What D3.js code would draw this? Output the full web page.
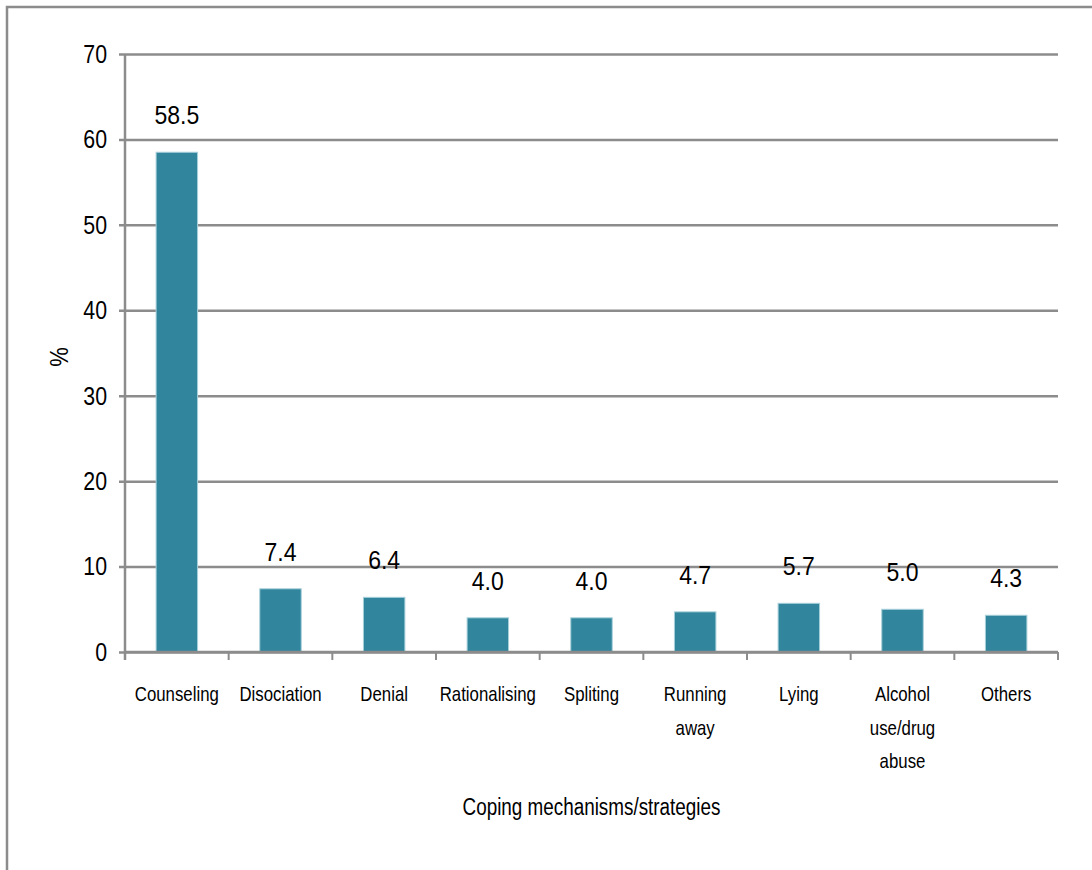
<!DOCTYPE html>
<html>
<head>
<meta charset="utf-8">
<script src="https://cdn.jsdelivr.net/npm/d3@7"></script>
<style>
  html, body { margin: 0; padding: 0; background: #fff; }
  svg { display: block; }
</style>
</head>
<body>
<svg id="chart" width="1092" height="870"></svg>
<script>
// Coping mechanisms / strategies, share of respondents (%)
const categories = [
  ["Counseling"],
  ["Disociation"],
  ["Denial"],
  ["Rationalising"],
  ["Spliting"],
  ["Running", "away"],
  ["Lying"],
  ["Alcohol", "use/drug", "abuse"],
  ["Others"]
];
const values = [58.5, 7.4, 6.4, 4.0, 4.0, 4.7, 5.7, 5.0, 4.3];
const yTicks = [0, 10, 20, 30, 40, 50, 60, 70];
const xTitle = "Coping mechanisms/strategies";
const yTitle = "%";

const svg = d3.select("#chart");
const font = "'Liberation Sans', Arial, sans-serif";
const gridColor = "#8c8c8c";

// Squeeze text horizontally to a condensed look
function condense(sel, f) {
  sel.each(function() {
    const w = this.getComputedTextLength();
    if (w > 0) {
      d3.select(this)
        .attr("textLength", w * f)
        .attr("lengthAdjust", "spacingAndGlyphs");
    }
  });
}

// Outer frame
svg.append("rect")
  .attr("x", 7).attr("y", 7)
  .attr("width", 1200).attr("height", 1000)
  .attr("fill", "none")
  .attr("stroke", gridColor)
  .attr("stroke-width", 2.5);

const plot = { left: 125, right: 1058, top: 54, bottom: 652 };

const keys = categories.map(c => c.join(" "));
const x = d3.scaleBand()
  .domain(keys)
  .range([plot.left, plot.right])
  .paddingInner(0.6)
  .paddingOuter(0.3);

const y = d3.scaleLinear()
  .domain([0, 70])
  .range([plot.bottom, plot.top]);

// Horizontal gridlines with left tick marks
const yAxis = d3.axisLeft(y)
  .tickValues(yTicks)
  .tickSize(-(plot.right - plot.left))
  .tickSizeOuter(0)
  .tickPadding(18)
  .tickFormat(d3.format("d"));

const gy = svg.append("g")
  .attr("transform", `translate(${plot.left},0)`)
  .call(yAxis);
gy.select(".domain").remove();
gy.selectAll(".tick line")
  .attr("x1", -6)
  .attr("stroke", gridColor)
  .attr("stroke-width", 2.5);
gy.selectAll(".tick text")
  .attr("font-family", font)
  .attr("font-size", 26)
  .attr("fill", "#000")
  .call(condense, 0.82);

// Vertical axis line
svg.append("line")
  .attr("x1", plot.left).attr("x2", plot.left)
  .attr("y1", y(70)).attr("y2", plot.bottom + 8)
  .attr("stroke", gridColor)
  .attr("stroke-width", 2.5);

// Bars
svg.append("g").selectAll("rect")
  .data(values)
  .join("rect")
  .attr("x", (d, i) => x(keys[i]))
  .attr("y", d => y(d))
  .attr("width", x.bandwidth())
  .attr("height", d => y(0) - y(d))
  .attr("fill", "#31859c")
  .attr("stroke", "#a8d0da")
  .attr("stroke-width", 1);

// Value labels above bars
svg.append("g").selectAll("text")
  .data(values)
  .join("text")
  .attr("x", (d, i) => x(keys[i]) + x.bandwidth() / 2)
  .attr("y", d => y(d) - 28)
  .attr("text-anchor", "middle")
  .attr("font-family", font)
  .attr("font-size", 25)
  .attr("fill", "#000")
  .text(d => d.toFixed(1))
  .call(condense, 0.92);

// Category axis line with boundary ticks
svg.append("line")
  .attr("x1", plot.left).attr("x2", plot.right)
  .attr("y1", plot.bottom).attr("y2", plot.bottom)
  .attr("stroke", gridColor)
  .attr("stroke-width", 2.5);

const step = x.step();
const boundaries = d3.range(categories.length + 1).map(i => plot.left + i * step);
svg.append("g").selectAll("line")
  .data(boundaries)
  .join("line")
  .attr("x1", d => d).attr("x2", d => d)
  .attr("y1", plot.bottom).attr("y2", plot.bottom + 8)
  .attr("stroke", gridColor)
  .attr("stroke-width", 2);

// Category labels (multi-line)
const cat = svg.append("g").selectAll("text")
  .data(categories)
  .join("text")
  .attr("x", (d, i) => x(keys[i]) + x.bandwidth() / 2)
  .attr("y", 701)
  .attr("text-anchor", "middle")
  .attr("font-family", font)
  .attr("font-size", 21)
  .attr("fill", "#000");
cat.each(function(lines) {
  const t = d3.select(this);
  lines.forEach((ln, j) => {
    t.append("tspan")
      .attr("x", t.attr("x"))
      .attr("dy", j === 0 ? 0 : 33.5)
      .text(ln);
  });
});
cat.selectAll("tspan").call(condense, 0.8);

// Axis titles
svg.append("text")
  .attr("x", (plot.left + plot.right) / 2)
  .attr("y", 815)
  .attr("text-anchor", "middle")
  .attr("font-family", font)
  .attr("font-size", 23)
  .attr("fill", "#000")
  .text(xTitle)
  .call(condense, 0.82);

svg.append("text")
  .attr("transform", `translate(68,357) rotate(-90)`)
  .attr("text-anchor", "middle")
  .attr("font-family", font)
  .attr("font-size", 26)
  .attr("fill", "#000")
  .text(yTitle)
  .call(condense, 0.85);
</script>
</body>
</html>
